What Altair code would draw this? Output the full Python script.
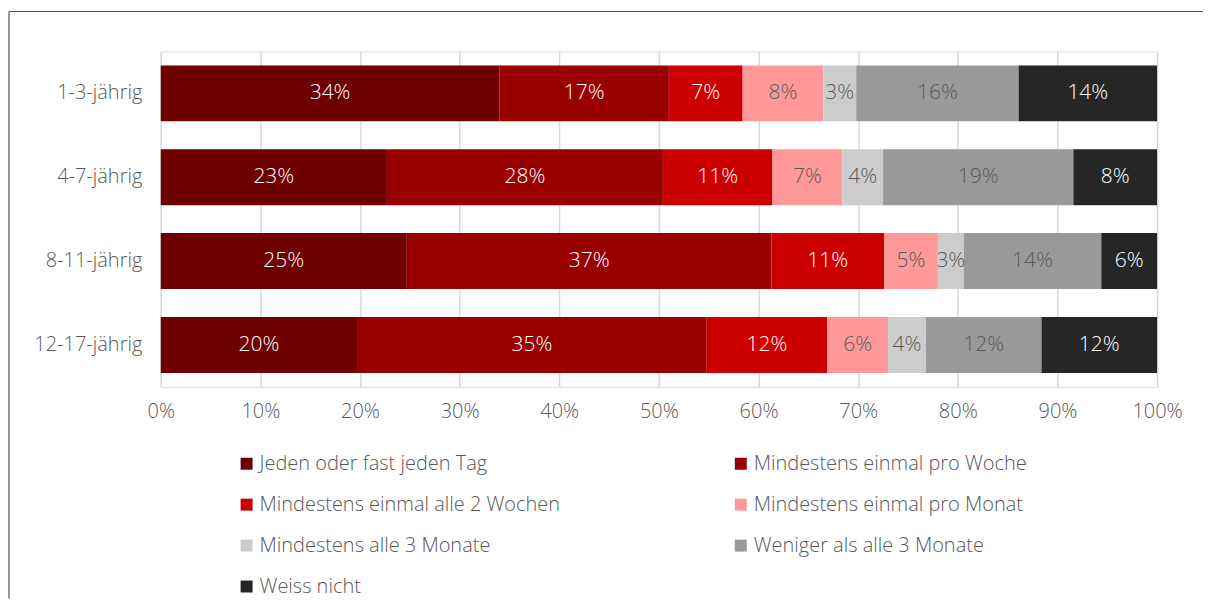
import altair as alt
import pandas as pd

ages = ["1-3-jährig", "4-7-jährig", "8-11-jährig", "12-17-jährig"]
categories = [
    "Jeden oder fast jeden Tag",
    "Mindestens einmal pro Woche",
    "Mindestens einmal alle 2 Wochen",
    "Mindestens einmal pro Monat",
    "Mindestens alle 3 Monate",
    "Weniger als alle 3 Monate",
    "Weiss nicht",
]
values_1_3 = [34.0, 17.0, 7.4, 8.1, 3.3, 16.3, 13.9]
values_4_7 = [22.7, 27.7, 11.0, 7.0, 4.1, 19.1, 8.4]
values_8_11 = [24.7, 36.6, 11.3, 5.4, 2.6, 13.8, 5.6]
values_12_17 = [19.7, 35.1, 12.1, 6.1, 3.8, 11.6, 11.6]
x_ticks = [0, 10, 20, 30, 40, 50, 60, 70, 80, 90, 100]

colors = ["#6E0000", "#990000", "#CC0000", "#FF9999", "#CCCCCC", "#999999", "#262626"]
dark_text_cats = [categories[3], categories[4], categories[5]]
FONT = "Open Sans"
FW = 300
FS = 20
GREY = "#595959"

rows = []
for age, vals in zip(ages, [values_1_3, values_4_7, values_8_11, values_12_17]):
    for i, (c, v) in enumerate(zip(categories, vals)):
        rows.append({"age": age, "cat": c, "value": v, "order": i})
df = pd.DataFrame(rows)

base = alt.Chart(df).transform_stack(
    stack="value", groupby=["age"], as_=["v0", "v1"],
    sort=[alt.SortField("order", order="ascending")]
).transform_calculate(mid="(datum.v0 + datum.v1) / 2")

y_enc = alt.Y("age:N", sort=ages, title=None,
              scale=alt.Scale(paddingInner=1/3, paddingOuter=1/6),
              axis=alt.Axis(domain=False, ticks=False, labelPadding=19,
                            labelFontSize=FS, labelColor=GREY, labelFont=FONT,
                            labelFontWeight=FW,
                            minExtent=130, maxExtent=130))

bars = base.mark_bar().encode(
    x=alt.X("v0:Q", scale=alt.Scale(domain=[0, 100], nice=False), title=None,
            axis=alt.Axis(values=x_ticks, grid=True, gridColor="#d9d9d9", gridWidth=1.5,
                          domain=False, ticks=False, labelPadding=15, labelFlush=False,
                          labelFontSize=FS, labelColor=GREY, labelFont=FONT,
                          labelFontWeight=FW,
                          labelExpr="datum.value + '%'")),
    x2="v1:Q",
    y=y_enc,
    color=alt.Color("cat:N", scale=alt.Scale(domain=categories, range=colors),
                    legend=alt.Legend(title=None, orient="none", legendX=76, legendY=403,
                                      direction="horizontal",
                                      columns=2, columnPadding=170, rowPadding=21,
                                      symbolType="square", symbolSize=144,
                                      symbolStrokeWidth=0, labelOffset=3,
                                      labelFontSize=FS, labelColor=GREY,
                                      labelFont=FONT, labelFontWeight=FW,
                                      labelLimit=500)),
    order=alt.Order("order:Q"),
)

labels = base.mark_text(fontSize=FS + 1, font=FONT, fontWeight=FW,
                        baseline="middle", align="center").encode(
    x="mid:Q",
    y=alt.Y("age:N", sort=ages),
    text=alt.Text("label:N"),
    color=alt.condition(alt.FieldOneOfPredicate(field="cat", oneOf=dark_text_cats),
                        alt.value(GREY), alt.value("white")),
).transform_calculate(label="format(datum.value, '.0f') + '%'")

frame_df = pd.DataFrame({"k": [0]})
frame_top = alt.Chart(frame_df).mark_rule(color="#505050", strokeWidth=1.2).encode(
    x=alt.value(-152), x2=alt.value(1044), y=alt.value(-40))
frame_left = alt.Chart(frame_df).mark_rule(color="#505050", strokeWidth=1.2).encode(
    x=alt.value(-152), y=alt.value(-40), y2=alt.value(548))

chart = alt.layer(bars, labels, frame_top, frame_left).properties(
    width=998, height=336, padding={"left": 0, "top": 2, "right": 0, "bottom": 0}
).configure_view(stroke=None).configure(font=FONT)

chart.save("out.html", embed_options={"renderer": "svg", "actions": False})
